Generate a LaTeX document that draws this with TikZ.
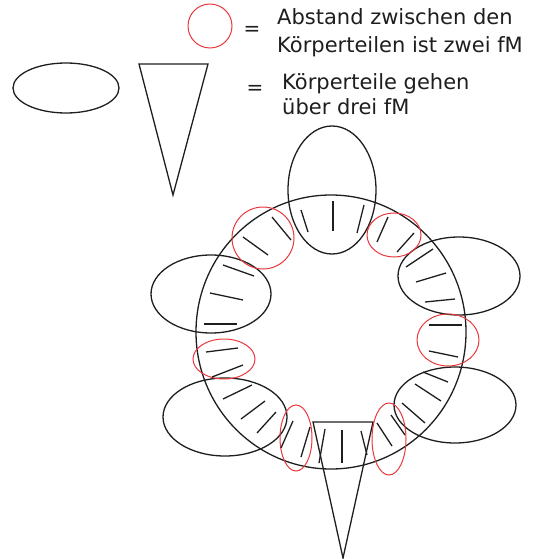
\documentclass[tikz,border=0pt]{standalone}
\usepackage{fontspec}
\newfontfamily\notefont{DejaVu Sans}
\usetikzlibrary{positioning}
\definecolor{Ink}{HTML}{1E1E1E}
\definecolor{Gap}{HTML}{E8383D}
\tikzset{
    body/.style={draw=Ink, line width=1.3pt},
    gapring/.style={draw=Gap, line width=1pt},
    hatch/.style={draw=Ink, line width=1.3pt},
    note/.style={inner sep=0pt, anchor=base west, text=Ink, font=\notefont\fontsize{21}{25}\selectfont},
    eqsign/.style={inner sep=0pt, text=Ink, font=\notefont\fontsize{20}{24}\selectfont},
}
\begin{document}
\begin{tikzpicture}[x=1pt, y=-1pt]
    \useasboundingbox (0,0) rectangle (544,559);

    % Legende
    \draw[gapring] (210,26) circle [radius=22];
    \node[eqsign] (eqa) at (252,31) {=};
    \node[note] (lega) at (277,25) {Abstand zwischen den};
    \node[note] (legb) at (277,53) {Körperteilen ist zwei fM};

    \draw[body] (66,88) ellipse [x radius=53, y radius=25];
    \draw[body] (139,64) -- (208,64) -- (173,195) -- cycle;
    \node[eqsign] (eqb) at (255,90) {=};
    \node[note] (legc) at (282,90) {Körperteile gehen};
    \node[note] (legd) at (282,115) {über drei fM};

    % Ring
    \draw[body] (331,332) ellipse [x radius=135, y radius=137];

    % Koerperteile
    \draw[body] (332,190) ellipse [x radius=44, y radius=64];
    \draw[body] (211,294) ellipse [x radius=60, y radius=39];
    \draw[body] (459,276) ellipse [x radius=61, y radius=39];
    \draw[body] (225,417) ellipse [x radius=62, y radius=39];
    \draw[body] (455,405) ellipse [x radius=61, y radius=38];
    \draw[body] (313,422) -- (373,422) -- (343,558) -- cycle;

    % Abstaende
    \draw[gapring] (263,238) ellipse [x radius=31, y radius=31];
    \draw[gapring] (394,235) ellipse [x radius=27, y radius=22];
    \draw[gapring] (448,340) ellipse [x radius=31, y radius=26];
    \draw[gapring] (224,359) ellipse [x radius=31, y radius=20];
    \draw[gapring] (296,438) ellipse [x radius=16, y radius=33];
    \draw[gapring] (389,439) ellipse [x radius=17, y radius=36];

    % Striche
    \foreach \ax/\ay/\bx/\by in {
        333/201/333/231, 301/210/308/232, 364/205/357/233,
        272/217/291/240, 243/237/268/255,
        388/217/377/242, 414/233/397/252,
        223/265/254/276, 210/293/243/300, 204/324/237/324,
        206/352/238/348, 212/377/243/365,
        223/399/252/385, 241/419/265/401, 257/433/276/412,
        293/421/281/448, 310/427/301/457,
        325/429/319/463, 342/430/342/463, 361/431/367/455,
        377/423/392/446, 391/415/405/435,
        402/403/425/423, 415/384/441/401, 423/372/448/382,
        429/325/462/325, 429/351/458/357,
        406/267/433/249, 416/282/446/273, 425/302/455/299}
        \draw[hatch] (\ax,\ay) -- (\bx,\by);
\end{tikzpicture}
\end{document}
